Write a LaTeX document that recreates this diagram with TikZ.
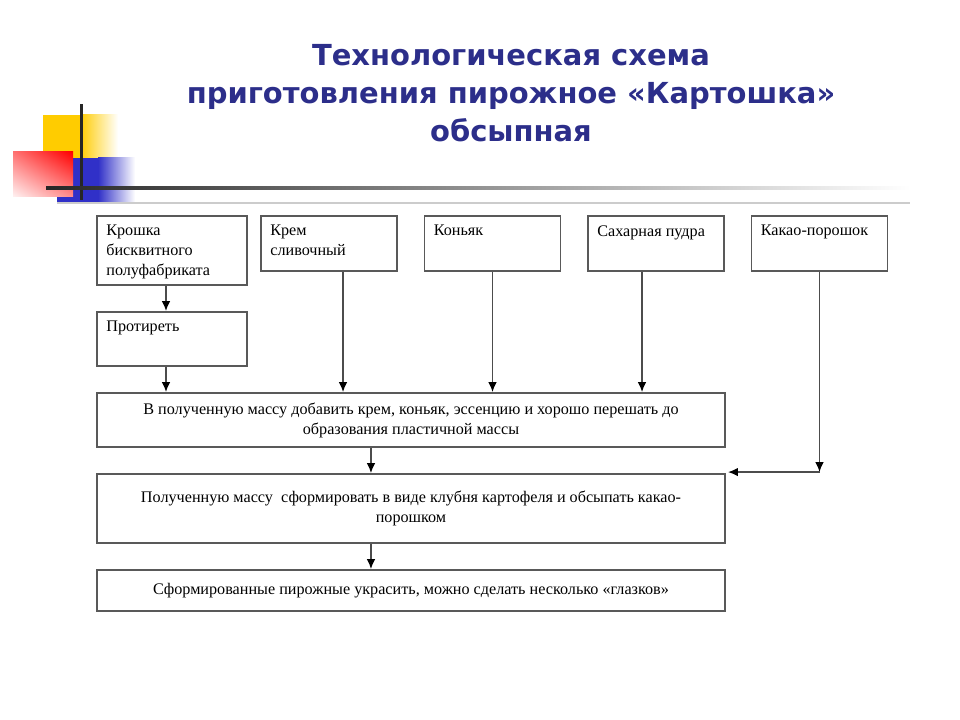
\documentclass[tikz,border=0pt]{standalone}
\usepackage{fontspec}
\setmainfont{Liberation Serif}
\newfontfamily\headfont{DejaVu Sans}
\usetikzlibrary{arrows.meta,positioning,shadings}
\definecolor{navy}{RGB}{44,46,138}
\definecolor{gold}{RGB}{255,204,0}
\definecolor{royal}{RGB}{48,48,200}

\begin{document}
\begin{tikzpicture}[x=0.025cm, y=-0.025cm,
  box/.style={draw=black!65, line width=1.3pt, inner sep=0pt, font=\fontsize{11.5}{14.2}\selectfont},
  ing/.style={box, minimum width=3.4cm, minimum height=1.375cm},
  stage/.style={box, minimum width=15.7cm, align=center},
  arr/.style={draw=black!70, line width=1pt, -{Latex[length=7pt,width=6pt,color=black]}}]
\useasboundingbox (0,0) rectangle (960,720);
\tikzset{txt/.style={anchor=north west, inner sep=0pt, xshift=0.25cm, yshift=-0.25cm, align=left,
  font=\fontsize{11.5}{14.2}\selectfont}}
% corner decoration
\fill[gold] (43,115) rectangle (80,160);
\shade[left color=gold, right color=white] (80,115) rectangle (118,160);
\fill[royal] (57,158) rectangle (98,202);
\shade[left color=royal, right color=white] (98,158) rectangle (135,202);
\shade[upper left=red!55, upper right=red, lower left=red!5, lower right=red!45] (13,152) rectangle (73,197);
\fill[black!85] (80,104) rectangle (83,200);
\shade[left color=black!85, middle color=black!65, right color=white] (46,187) rectangle (910,190);
\draw[black!20, line width=1pt] (57,203) -- (910,203);
% title
\node[text=navy, font=\headfont\bfseries\fontsize{20.6}{27}\selectfont, align=center] (title) at (511,93)
  {Технологическая схема\\приготовления пирожное «Картошка»\\обсыпная};
% ingredients
\node[box, minimum width=3.75cm, minimum height=1.725cm,
  label={[txt]north west:Крошка\\бисквитного\\полуфабриката}] (krosh) at (172,250.5) {};
\node[ing, label={[txt]north west:Крем\\сливочный}] (krem) at (329,243.5) {};
\node[ing, label={[txt]north west:Коньяк}] (kon) at (492.5,243.5) {};
\node[ing, label={[txt]north west:Сахарная пудра}] (sah) at (656,243.5) {};
\node[ing, label={[txt]north west:Какао-порошок}] (kak) at (819.5,243.5) {};
\node[box, minimum width=3.75cm, minimum height=1.35cm,
  label={[txt]north west:Протиреть}] (prot) at (172,339) {};
% process steps
\node[stage, minimum height=1.35cm] (mix) at (411,420)
  {В полученную массу добавить крем, коньяк, эссенцию и хорошо перешать до\\образования пластичной массы};
\node[stage, minimum height=1.725cm] (form) at (411,508.5)
  {Полученную массу\ \ сформировать в виде клубня картофеля и обсыпать какао-\\порошком};
\node[stage, minimum height=1.025cm] (dec) at (411,590.5)
  {Сформированные пирожные украсить, можно сделать несколько «глазков»};
% connectors
\draw[arr] ([xshift=-0.15cm]krosh.south) coordinate (k1) -- (k1 |- prot.north);
\draw[arr] ([xshift=-0.15cm]prot.south) coordinate (p1) -- (p1 |- mix.north);
\draw[arr] ([xshift=0.35cm]krem.south) coordinate (c1) -- (c1 |- mix.north);
\draw[arr] (kon.south) -- (kon.south |- mix.north);
\draw[arr] ([xshift=-0.35cm]sah.south) coordinate (s1) -- (s1 |- mix.north);
\draw[arr] ([xshift=-1cm]mix.south) coordinate (m1) -- (m1 |- form.north);
\draw[arr] ([xshift=-1cm]form.south) coordinate (f1) -- (f1 |- dec.north);
\coordinate (kc) at ([yshift=0.025cm]kak.south |- form.north);
\draw[arr] (kak.south) -- (kc);
\draw[arr] (kc) -- ([xshift=0.05cm]kc -| form.east);
\end{tikzpicture}
\end{document}
